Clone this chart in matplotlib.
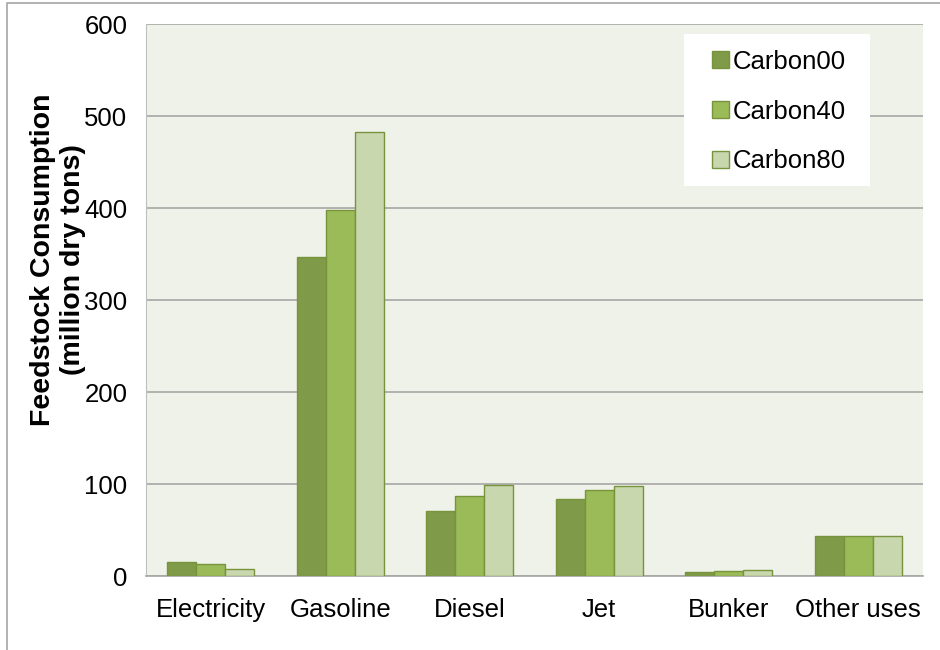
import matplotlib
matplotlib.use("Agg")
import matplotlib.pyplot as plt
import numpy as np
from matplotlib.patches import Rectangle

plt.rcParams['font.family'] = ['Liberation Sans', 'DejaVu Sans']

categories = ["Electricity", "Gasoline", "Diesel", "Jet", "Bunker", "Other uses"]
series_names = ["Carbon00", "Carbon40", "Carbon80"]
carbon00 = [15, 347, 71, 84, 4, 43]
carbon40 = [13, 398, 87, 93, 5, 43]
carbon80 = [8, 483, 99, 98, 6, 43]
yticks = [0, 100, 200, 300, 400, 500, 600]

colors = ["#7F9A48", "#9BBB59", "#C8D7AE"]
edge = "#77933C"

fig = plt.figure(figsize=(9.4, 6.5), dpi=100)
ax = fig.add_axes([146 / 940, 74 / 650, 777 / 940, 552 / 650])
ax.set_facecolor("#EFF2E8")

x = np.arange(len(categories))
w = 0.224
for i, (vals, name) in enumerate(zip([carbon00, carbon40, carbon80], series_names)):
    ax.bar(x + (i - 1) * w, vals, width=w, color=colors[i], edgecolor=edge,
           linewidth=1.0, label=name, zorder=3)

ax.set_xlim(-0.5, len(categories) - 0.5)
ax.set_ylim(0, 600)
ax.set_yticks(yticks)
ax.set_xticks(x)
ax.set_xticklabels(categories)
ax.yaxis.grid(True, color="#A6A6A6", linewidth=1.2, zorder=1)
ax.set_axisbelow(True)
ax.tick_params(axis="both", length=0, labelsize=18.5, colors="black")
ax.tick_params(axis="y", pad=13.5)
ax.tick_params(axis="x", pad=16)

for s in ["top", "right"]:
    ax.spines[s].set_visible(False)
ax.spines["left"].set_color("#BFBFBF")
ax.spines["left"].set_linewidth(0.8)
ax.spines["bottom"].set_color("#A6A6A6")
ax.spines["bottom"].set_linewidth(1.2)

ax.set_ylabel("Feedstock Consumption\n(million dry tons)", fontsize=20.5,
              fontweight="bold", linespacing=1.2)
ax.yaxis.set_label_coords(-0.0775, 0.5725)

# white legend panel
ax.add_patch(Rectangle((0.6924, 0.7065), 0.2394, 0.2754, transform=ax.transAxes,
                       facecolor="white", edgecolor="none", zorder=4))
leg = ax.legend(loc="upper left", bbox_to_anchor=(0.7285, 0.953), fontsize=18.5,
                frameon=False, handlelength=0.65, handleheight=0.65,
                handletextpad=0.15, labelspacing=1.0, borderpad=0,
                borderaxespad=0)
leg.set_zorder(5)

# outer chart border
fig.patches.append(Rectangle((7 / 940, -0.1), 1.2, (647 / 650) + 0.1,
                             transform=fig.transFigure, fill=False,
                             edgecolor="#A6A6A6", linewidth=1.2))

fig.savefig("out.png", dpi=100)
